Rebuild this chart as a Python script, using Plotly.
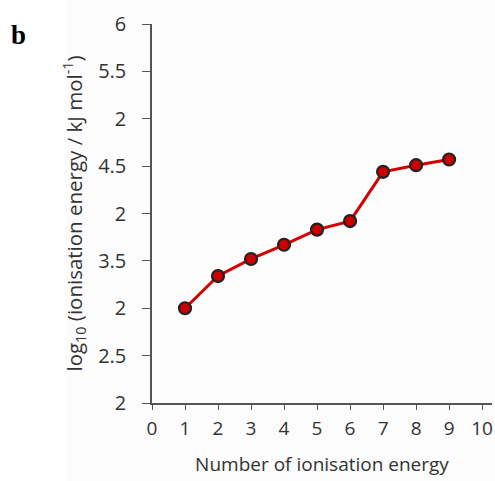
import plotly.graph_objects as go

ionisation_number = [1, 2, 3, 4, 5, 6, 7, 8, 9]
log_energy = [3.00, 3.34, 3.52, 3.67, 3.83, 3.92, 4.44, 4.51, 4.57]

y_tick_vals = [2, 2.5, 3, 3.5, 4, 4.5, 5, 5.5, 6]
y_tick_text = ["2", "2.5", "2", "3.5", "2", "4.5", "2", "5.5", "6"]
x_tick_vals = [0, 1, 2, 3, 4, 5, 6, 7, 8, 9, 10]

FONT = "Open Sans"
TXT = "#333333"

fig = go.Figure()
fig.add_trace(go.Scatter(
    x=ionisation_number, y=log_energy, mode="lines+markers",
    line=dict(color="#d40000", width=3),
    marker=dict(size=12, color="#cc0000", line=dict(color="#222222", width=2.2)),
    showlegend=False, cliponaxis=False,
))

# the page body margin is removed (post_script), so figure coords = screen coords
W, H = 495, 481
ml, mr, mt, mb = 152, 3, 24, 78
pw, ph = W - ml - mr, H - mt - mb

fig.update_layout(
    width=W, height=H,
    margin=dict(l=ml, r=mr, t=mt, b=mb, autoexpand=False),
    paper_bgcolor="white", plot_bgcolor="rgba(0,0,0,0)",
    font=dict(family=FONT, color=TXT, size=19),
    xaxis=dict(
        range=[0, 10.3], tickvals=x_tick_vals, showgrid=False, zeroline=False,
        showline=True, linecolor="#555555", linewidth=1.5,
        ticks="outside", ticklen=5, tickcolor="#555555", tickwidth=1.2,
        ticklabelstandoff=2,
        tickfont=dict(size=19, color=TXT, family=FONT),
        title=dict(text="Number of ionisation energy", font=dict(size=19, family=FONT, color=TXT), standoff=18),
    ),
    yaxis=dict(
        range=[2, 6], tickvals=y_tick_vals, ticktext=y_tick_text, showgrid=False, zeroline=False,
        showline=True, linecolor="#555555", linewidth=1.5,
        ticks="outside", ticklen=8, tickcolor="#555555", tickwidth=1.2,
        ticklabelstandoff=12,
        tickfont=dict(size=20, color=TXT, family=FONT),
        title=dict(text="log<sub>10</sub> (ionisation energy / kJ mol<sup>-1</sup>)",
                   font=dict(size=20.5, family=FONT, color=TXT), standoff=10),
    ),
    shapes=[dict(type="rect", xref="paper", yref="paper",
                 x0=(65 - ml) / pw, x1=1.1, y0=-mb / ph - 0.1, y1=1 + mt / ph + 0.1,
                 fillcolor="#fcfcfc", line=dict(width=0), layer="below")],
    annotations=[dict(text="<b>b</b>", xref="paper", yref="paper",
                      x=(9 - ml) / pw, y=1 + (mt - 35) / ph,
                      xanchor="left", yanchor="middle", showarrow=False,
                      font=dict(family="Liberation Serif", size=27, color="#000000"))],
)

fig.write_html("out.html",
               config={"displayModeBar": False},
               post_script="document.body.style.margin='0px';document.body.style.overflow='hidden';")
